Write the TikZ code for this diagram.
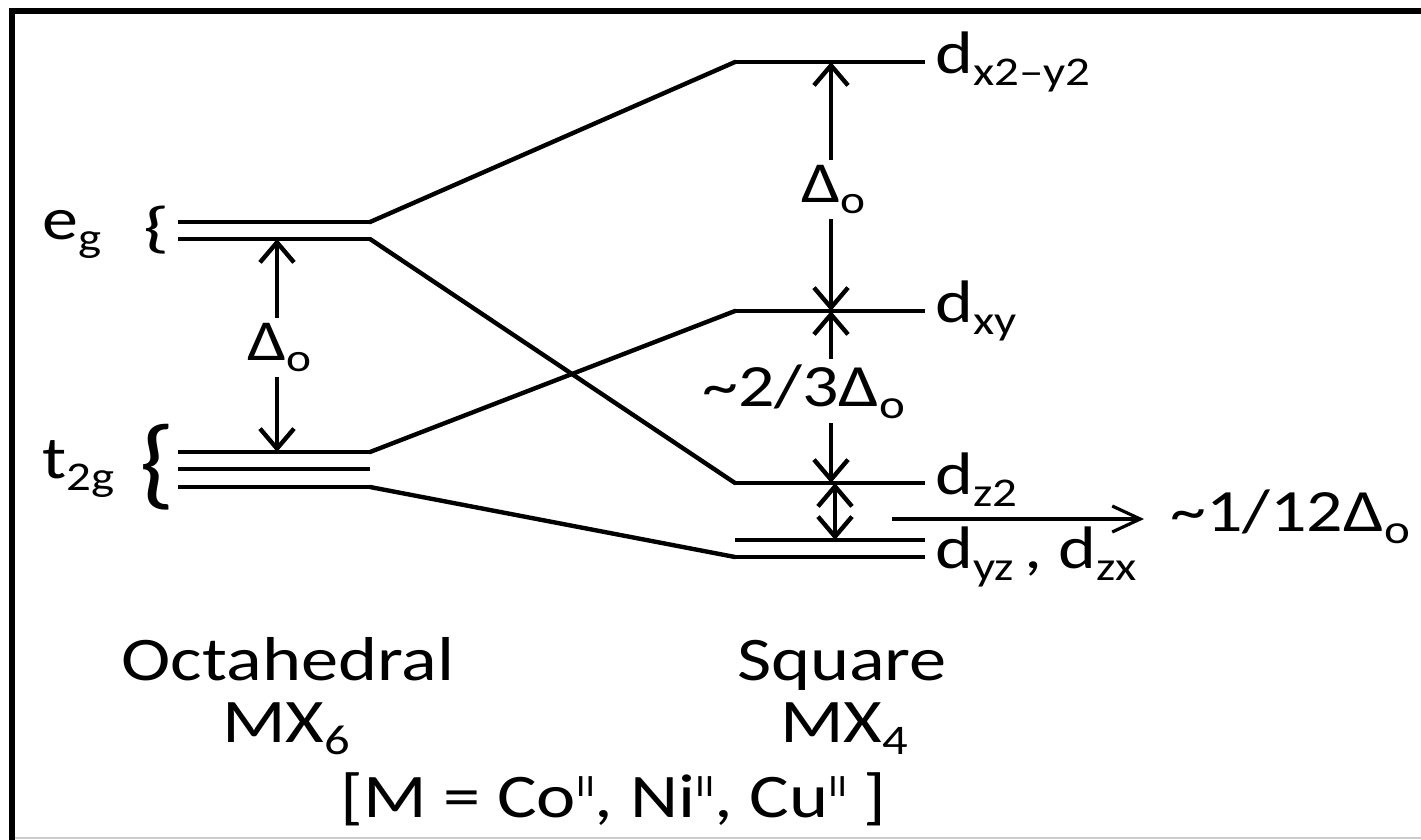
\documentclass[tikz,border=0pt]{standalone}
\usepackage{graphicx}
\usepackage{fontspec}
\setmainfont{Carlito}[FakeStretch=1.2]
\usetikzlibrary{arrows.meta}
\newcommand\lo[1]{\raisebox{-0.2em}{\scalebox{0.68}{#1}}}
\newcommand\hi[1]{\raisebox{0.33em}{\scalebox{0.5}{#1}}}
\tikzset{
  lvl/.style={line width=4.4pt},
  conn/.style={line width=4.4pt, line cap=round},
  arr/.style={line width=4.4pt, -{Straight Barb[length=20pt,width=34pt]}},
  dblarr/.style={line width=4.4pt, {Straight Barb[length=20pt,width=34pt]}-{Straight Barb[length=20pt,width=34pt]}},
  thinarr/.style={line width=3.2pt, -{Straight Barb[length=28pt,width=26pt]}},
  lbl/.style={font=\fontsize{60}{64}\selectfont, inner sep=0pt},
  big/.style={font=\fontsize{62}{66}\selectfont, inner sep=0pt},
  gap/.style={font=\fontsize{58}{62}\selectfont, inner xsep=0pt, inner ysep=5pt},
}
\begin{document}
\begin{tikzpicture}[x=1pt,y=-1pt]
\useasboundingbox (0,0) rectangle (1421,839);
% frame
\draw[line width=6pt, line join=miter] (11.5,845) -- (11.5,10.5) -- (1430,10.5);
\draw[black!20, line width=1.5pt] (15,838) -- (1421,838);
% left levels
\coordinate (eg1L) at (178,222); \coordinate (eg1R) at (370,222);
\coordinate (eg2L) at (178,239); \coordinate (eg2R) at (370,239);
\coordinate (t1L) at (178,452); \coordinate (t1R) at (370,452);
\coordinate (t2L) at (178,469); \coordinate (t2R) at (370,469);
\coordinate (t3L) at (178,487); \coordinate (t3R) at (370,487);
% right levels
\coordinate (dxL) at (735,62);   \coordinate (dxR) at (925,62);
\coordinate (dxyL) at (735,311); \coordinate (dxyR) at (925,311);
\coordinate (dzL) at (735,483);  \coordinate (dzR) at (925,483);
\coordinate (dy1L) at (735,540); \coordinate (dy1R) at (925,540);
\coordinate (dy2L) at (735,557); \coordinate (dy2R) at (925,557);
\foreach \a in {eg1,eg2,t1,t2,t3,dx,dxy,dz,dy1,dy2}
  \draw[lvl] (\a L) -- (\a R);
% connectors
\draw[conn] (eg1R) -- (dxL);
\draw[conn] (eg2R) -- (dzL);
\draw[conn] (t1R) -- (dxyL);
\draw[conn] (t3R) -- (dy2L);
% left labels and braces
\node[lbl, anchor=base west] (eg) at (42,239) {e\lo{g}};
\node[lbl, anchor=base west] (t2g) at (42,478) {t\lo{2g}};
\node[inner sep=0pt] (bre) at (157,230) {\fontsize{56}{56}\selectfont\scalebox{1.25}[1]{\{}};
\node[inner sep=0pt] (brt) at (157,467) {\fontsize{100}{100}\selectfont\scalebox{0.95}[1]{\{}};
% left Delta_o
\coordinate (aL) at (277,0);
\node[gap, anchor=base west] (dL) at (247,360) {Δ\lo{o}};
\draw[arr] (aL |- dL.north) -- (aL |- eg2R);
\draw[arr] (aL |- dL.south) -- (aL |- t1R);
% right arrows
\coordinate (aR) at (831,0);
\node[gap, anchor=base west] (dR) at (801,202) {Δ\lo{o}};
\draw[arr] (aR |- dR.north) -- (aR |- dxR);
\draw[arr] (aR |- dR.south) -- (aR |- dxyR);
\node[lbl, inner ysep=5pt, anchor=base west] (m23) at (702,406) {\textasciitilde2/3Δ\lo{o}};
\draw[arr] (aR |- m23.north) -- (aR |- dxyR);
\draw[arr] (aR |- m23.south) -- (aR |- dzR);
\coordinate (aS) at (835,0);
\draw[dblarr] (aS |- dzR) -- (aS |- dy1R);
\node[lbl, anchor=base west] (m112) at (1170,531) {\textasciitilde1/12Δ\lo{o}};
\coordinate (hs) at (892,519);
\coordinate (he) at (1144,519);
\draw[thinarr] (hs) -- (he);
% right labels
\node[lbl, anchor=base west] (lx) at (935,73) {d\lo{x2\textendash y2}};
\node[lbl, anchor=base west] (lxy) at (935,322) {d\lo{xy}};
\node[lbl, anchor=base west] (lz) at (935,494) {d\lo{z2}};
\node[lbl, anchor=base west] (lyz) at (935,568) {d\lo{yz}\,, d\lo{zx}};
% bottom
\node[big, anchor=base] (oct) at (288,680) {Octahedral};
\node[big, anchor=base] (sq) at (842,680) {Square};
\node[big, anchor=base west] (mx6) at (222,742) {MX\lo{6}};
\node[big, anchor=base west] (mx4) at (780,742) {MX\lo{4}};
\node[big, anchor=base west] (mm) at (340,817) {[M = Co\hi{II}, Ni\hi{II}, Cu\hi{II} ]};
\end{tikzpicture}
\end{document}
